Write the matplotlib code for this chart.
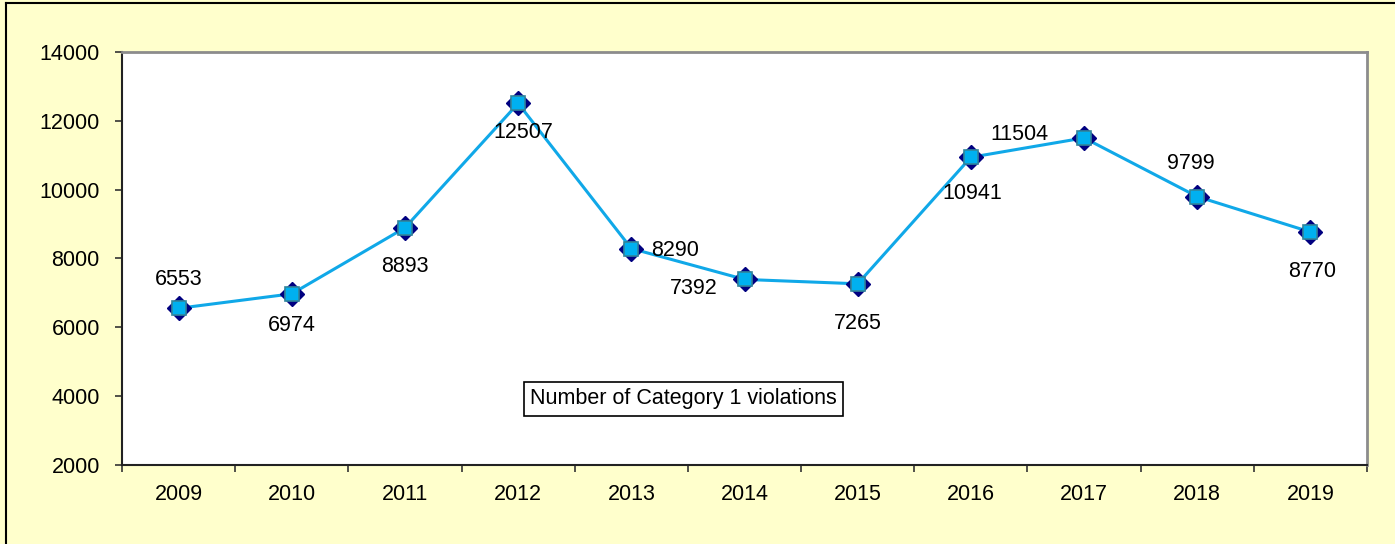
import numpy as np
import matplotlib.pyplot as plt
from matplotlib.lines import Line2D
from matplotlib.ticker import FixedLocator, NullFormatter

plt.rcParams['font.family'] = ['Liberation Sans', 'DejaVu Sans']

years = ['2009', '2010', '2011', '2012', '2013', '2014',
         '2015', '2016', '2017', '2018', '2019']
violations = [6553, 6974, 8893, 12507, 8290, 7392, 7265, 10941, 11504, 9799, 8770]

# where each value label sits relative to its point (pixels)
label_offsets = [(0, 29), (0, -32), (0, -39), (5, -29), (44, -2), (-51, -9),
                 (0, -40), (1, -36), (-65, 3), (-6, 33), (2, -40)]

bg = '#FFFFCC'
line_col = '#10A8E8'

fig = plt.figure(figsize=(13.95, 5.44), dpi=100, facecolor=bg)
ax = fig.add_axes([122 / 1395, 1 - 465 / 544, 1245 / 1395, 413 / 544])
ax.set_facecolor('white')

x = np.arange(len(years))
ax.plot(x, violations, color=line_col, lw=2.2, zorder=3)
ax.plot(x, violations, 'D', ms=12.5, color='#000080', mec='#000080', zorder=4)
ax.plot(x, violations, 's', ms=10.5, color='#00B0F0', mec='#31859C', mew=1.2, zorder=5)

for xi, v, (dx, dy) in zip(x, violations, label_offsets):
    ax.annotate(str(v), (xi, v), xytext=(dx, dy), textcoords='offset pixels',
                ha='center', va='center', fontsize=15.5, color='black', zorder=6)

ax.set_xlim(-0.5, len(years) - 0.5)
ax.set_ylim(2000, 14000)
ax.set_yticks(np.arange(2000, 14001, 2000))

# year labels centred in each slot, ticks on the slot boundaries
ax.xaxis.set_major_locator(FixedLocator(np.arange(-0.5, len(years), 1.0)))
ax.xaxis.set_major_formatter(NullFormatter())
ax.xaxis.set_minor_locator(FixedLocator(x))
ax.set_xticklabels(years, minor=True)
ax.tick_params(axis='x', which='minor', length=0, pad=13.5, labelsize=15.5)
ax.tick_params(axis='x', which='major', direction='out', length=5, width=1.2, color='#333333')
ax.tick_params(axis='y', direction='out', length=5, width=1.2, color='#333333',
               pad=11, labelsize=15.5)

for side in ['left', 'bottom']:
    ax.spines[side].set_color('#222222')
    ax.spines[side].set_linewidth(1.5)
for side in ['top', 'right']:
    ax.spines[side].set_color('#8C8C8C')
    ax.spines[side].set_linewidth(2)

ax.text(0.451, 0.16, 'Number of Category 1 violations', transform=ax.transAxes,
        ha='center', va='center', fontsize=15.5,
        bbox=dict(boxstyle='square,pad=0.3', fc='white', ec='black', lw=1.2))

# outer chart frame (top and left edges)
W, H = 1395, 544
fig.add_artist(Line2D([6 / W, 1], [1 - 3 / H, 1 - 3 / H], color='black', lw=1.5,
                      transform=fig.transFigure))
fig.add_artist(Line2D([6 / W, 6 / W], [0, 1 - 3 / H], color='black', lw=1.5,
                      transform=fig.transFigure))

fig.savefig('out.png', dpi=100, facecolor=bg)
